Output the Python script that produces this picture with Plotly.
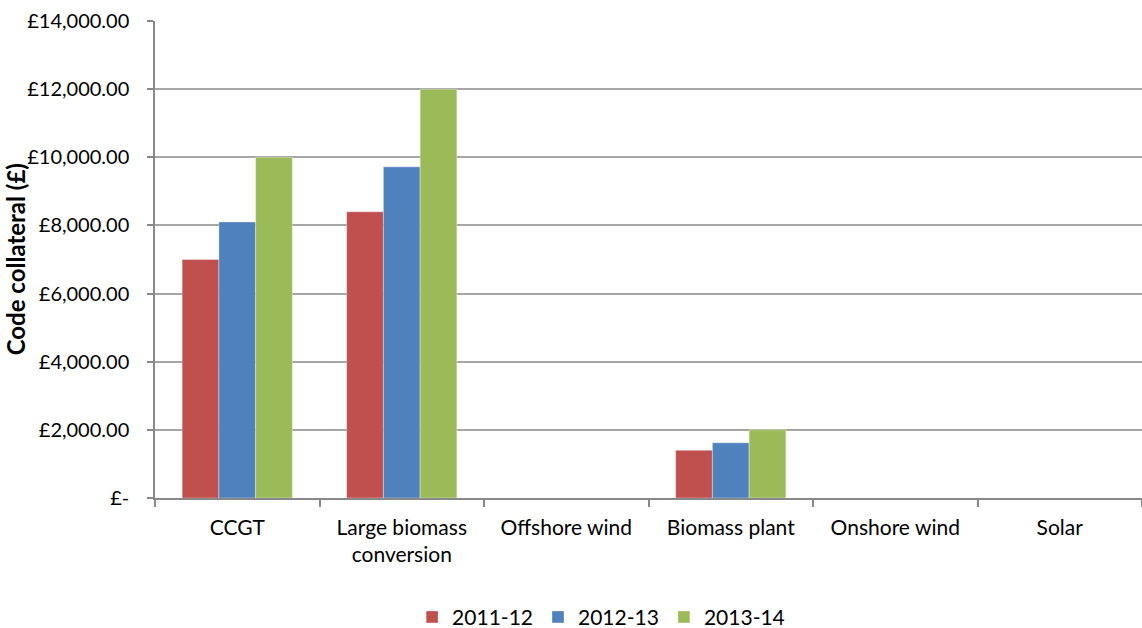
import plotly.graph_objects as go

categories = ["CCGT", "Large biomass<br>conversion", "Offshore wind",
              "Biomass plant", "Onshore wind", "Solar"]
years = ["2011-12", "2012-13", "2013-14"]
values_2011_12 = [7000, 8400, 0, 1400, 0, 0]
values_2012_13 = [8100, 9720, 0, 1620, 0, 0]
values_2013_14 = [10000, 12000, 0, 2000, 0, 0]
colors = ["#C0504D", "#4F81BD", "#9BBB59"]

y_ticks = [0, 2000, 4000, 6000, 8000, 10000, 12000, 14000]
y_tick_text = ["£-", "£2,000.00", "£4,000.00", "£6,000.00", "£8,000.00",
               "£10,000.00", "£12,000.00", "£14,000.00"]

FONT = "Lato, 'Open Sans', sans-serif"

fig = go.Figure()
for name, vals, col in zip(years, [values_2011_12, values_2012_13, values_2013_14], colors):
    fig.add_trace(go.Bar(
        name=name, x=categories, y=vals,
        marker=dict(color=col, line=dict(width=0.6, color="rgba(255,255,255,0.6)")),
    ))

fig.update_layout(
    width=1142, height=628,
    barmode="group", bargap=0.33, bargroupgap=0,
    plot_bgcolor="white", paper_bgcolor="white",
    margin=dict(l=155, r=0, t=21, b=130, autoexpand=False),
    font=dict(family=FONT, size=20, color="#000000"),
    showlegend=True,
    legend=dict(orientation="h", x=0.452, xanchor="center", y=-0.25, yanchor="middle",
                font=dict(size=21), itemwidth=30, traceorder="normal"),
    xaxis=dict(
        showline=True, linecolor="#888888", linewidth=1.5,
        ticks="outside", ticklen=7, tickcolor="#888888", tickwidth=1.5,
        tickson="boundaries", showgrid=False, ticklabelstandoff=10,
        tickfont=dict(size=21),
    ),
    yaxis=dict(
        range=[0, 14000], tickvals=y_ticks, ticktext=y_tick_text,
        showline=True, linecolor="#888888", linewidth=1.5,
        ticks="outside", ticklen=6, tickcolor="#888888", tickwidth=1.5,
        showgrid=True, gridcolor="#A6A6A6", gridwidth=1.5,
        zeroline=False, ticklabelstandoff=14,
        tickfont=dict(size=20),
    ),
    annotations=[dict(
        text="<b>Code collateral (£)</b>", textangle=-90,
        xref="paper", yref="paper", x=-0.141, xanchor="center",
        y=0.5, yanchor="middle", showarrow=False,
        font=dict(size=24, family=FONT),
    )],
)

fig.write_html("out.html")
